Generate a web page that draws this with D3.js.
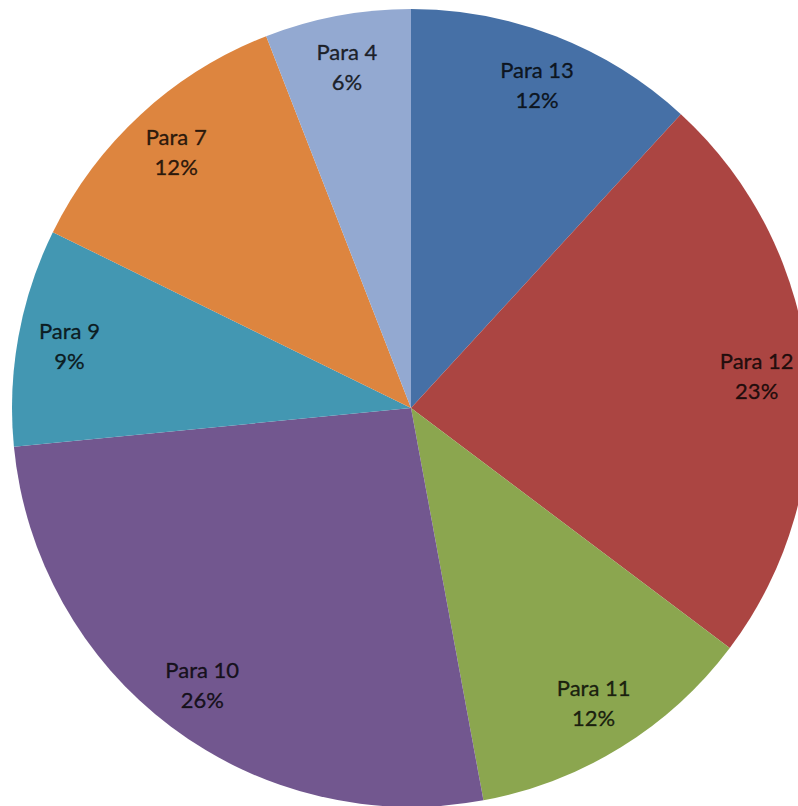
<!DOCTYPE html>
<html>
<head>
<meta charset="utf-8">
<script src="https://cdn.jsdelivr.net/npm/d3@7"></script>
<style>
  html, body { margin: 0; padding: 0; background: #ffffff; }
  svg { display: block; }
</style>
</head>
<body>
<svg id="chart" width="798" height="806"></svg>
<script>
const categories = ["Para 13", "Para 12", "Para 11", "Para 10", "Para 9", "Para 7", "Para 4"];
const values = [11.8, 23.4, 11.8, 26.3, 8.8, 11.8, 5.9];
const colors = ["#4670a6", "#ab4542", "#8ba64f", "#72578f", "#4397b2", "#dd853f", "#93a9d1"];

const W = 798, H = 806;
const cx = 411, cy = 408, R = 399;

const svg = d3.select("#chart");
const g = svg.append("g").attr("transform", `translate(${cx},${cy})`);

const data = categories.map((c, i) => ({ name: c, value: values[i], color: colors[i] }));
const total = d3.sum(values);

const pie = d3.pie().value(d => d.value).sort(null);
const arc = d3.arc().innerRadius(0).outerRadius(R);
const labelArc = d3.arc().innerRadius(R * 0.87).outerRadius(R * 0.87);

const arcs = pie(data);

g.selectAll("path.slice")
  .data(arcs)
  .enter().append("path")
  .attr("class", "slice")
  .attr("d", arc)
  .attr("fill", d => d.data.color);

const fmt = v => Math.round(v / total * 100) + "%";

const lab = g.selectAll("text.lbl")
  .data(arcs)
  .enter().append("text")
  .attr("class", "lbl")
  .attr("transform", d => `translate(${labelArc.centroid(d)})`)
  .attr("text-anchor", "middle")
  .attr("font-family", "Lato, 'Open Sans', sans-serif")
  .attr("font-size", 22)
  .attr("fill", "#000")
  .attr("fill-opacity", 0.8)
  .attr("stroke", "#000")
  .attr("stroke-opacity", 0.5)
  .attr("stroke-width", 0.5);

lab.append("tspan").attr("x", 0).attr("y", -7).text(d => d.data.name);
lab.append("tspan").attr("x", 0).attr("y", 23).text(d => fmt(d.data.value));
</script>
</body>
</html>
